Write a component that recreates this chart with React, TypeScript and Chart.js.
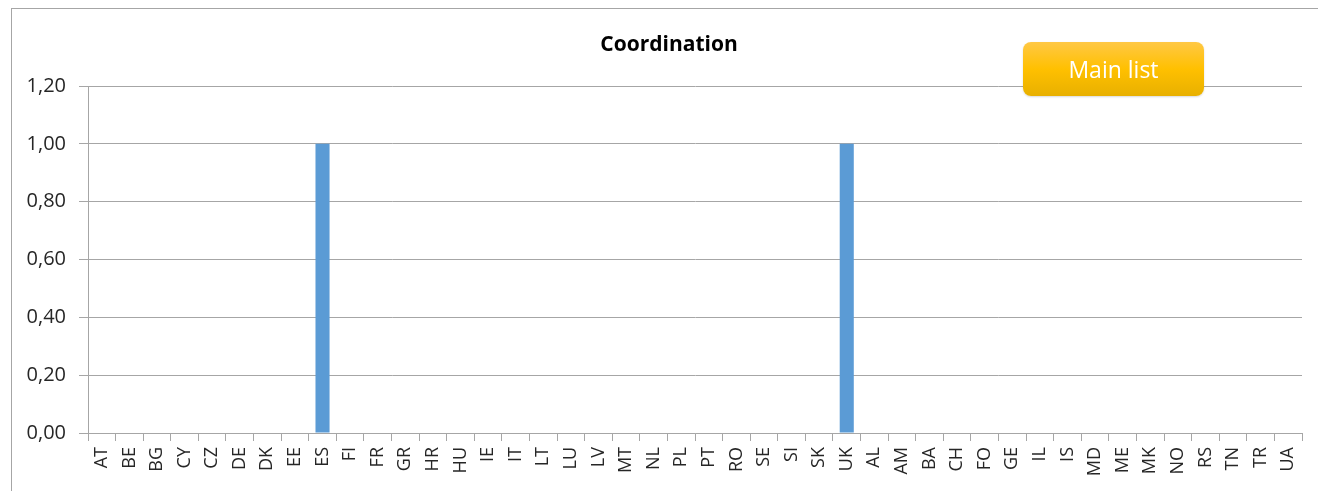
import React, { useEffect, useRef } from "react";
import { Chart, registerables } from "chart.js";

Chart.register(...registerables);

const categories: string[] = [
  "AT", "BE", "BG", "CY", "CZ", "DE", "DK", "EE", "ES", "FI", "FR", "GR", "HR", "HU", "IE",
  "IT", "LT", "LU", "LV", "MT", "NL", "PL", "PT", "RO", "SE", "SI", "SK", "UK", "AL", "AM",
  "BA", "CH", "FO", "GE", "IL", "IS", "MD", "ME", "MK", "NO", "RS", "TN", "TR", "UA",
];

const coordinationValues: number[] = [
  0, 0, 0, 0, 0, 0, 0, 0, 1, 0, 0, 0, 0, 0, 0,
  0, 0, 0, 0, 0, 0, 0, 0, 0, 0, 0, 0, 1, 0, 0,
  0, 0, 0, 0, 0, 0, 0, 0, 0, 0, 0, 0, 0, 0,
];

const chartTitle = "Coordination";
const buttonLabel = "Main list";
const yMin = 0;
const yMax = 1.2;
const yStep = 0.2;

const FONT = "'Open Sans', Lato, sans-serif";

export default function App() {
  const canvasRef = useRef<HTMLCanvasElement | null>(null);

  useEffect(() => {
    const canvas = canvasRef.current;
    if (!canvas) return;
    const chart = new Chart(canvas, {
      type: "bar",
      data: {
        labels: categories,
        datasets: [
          {
            label: chartTitle,
            data: coordinationValues,
            backgroundColor: "#5B9BD5",
            borderWidth: 0,
            barPercentage: 0.51,
            categoryPercentage: 1,
          },
        ],
      },
      options: {
        responsive: false,
        animation: false,
        layout: { padding: { left: 0, top: 86, right: 16, bottom: 0 } },
        plugins: {
          legend: { display: false },
          title: { display: false },
          tooltip: { enabled: false },
        },
        scales: {
          x: {
            grid: {
              offset: true,
              drawOnChartArea: false,
              drawTicks: true,
              tickLength: 8,
              color: "#a6a6a6",
            },
            border: { display: true, color: "#a6a6a6", width: 1 },
            ticks: {
              autoSkip: false,
              minRotation: 90,
              maxRotation: 90,
              padding: 6,
              color: "#262626",
              font: { family: FONT, size: 18 },
            },
            afterFit: (scale: any) => {
              scale.height = 58;
            },
          },
          y: {
            min: yMin,
            max: yMax,
            grid: {
              color: "#a6a6a6",
              drawTicks: true,
              tickLength: 9,
            },
            border: { display: true, color: "#a6a6a6", width: 1 },
            ticks: {
              stepSize: yStep,
              padding: 13,
              color: "#262626",
              font: { family: FONT, size: 20 },
              callback: (v: any) => Number(v).toFixed(2).replace(".", ","),
            },
            afterFit: (scale: any) => {
              scale.width = 88;
            },
          },
        },
      },
    });
    return () => chart.destroy();
  }, []);

  return (
    <div
      style={{
        position: "fixed",
        left: 0,
        top: 0,
        width: 1318,
        height: 491,
        background: "#ffffff",
        overflow: "hidden",
      }}
    >
      <div
        style={{
          position: "absolute",
          left: 11,
          top: 8,
          width: 1400,
          height: 600,
          borderLeft: "1px solid #a6a6a6",
          borderTop: "1px solid #a6a6a6",
          boxSizing: "border-box",
        }}
      />
      <canvas
        ref={canvasRef}
        width={1318}
        height={491}
        style={{ position: "absolute", left: 0, top: 0, width: 1318, height: 491 }}
      />
      <div
        style={{
          position: "absolute",
          left: 469,
          top: 28,
          width: 400,
          textAlign: "center",
          fontFamily: FONT,
          fontWeight: 700,
          fontSize: 21,
          color: "#000000",
          lineHeight: "30px",
        }}
      >
        {chartTitle}
      </div>
      <div
        style={{
          position: "absolute",
          left: 1023,
          top: 42,
          width: 181,
          height: 54,
          borderRadius: 8,
          background: "linear-gradient(to bottom, #FFC845 0%, #FFC000 50%, #E8B000 100%)",
          boxShadow: "0 1px 2px rgba(0,0,0,0.15)",
          color: "#ffffff",
          fontFamily: FONT,
          fontSize: 23,
          display: "flex",
          alignItems: "center",
          justifyContent: "center",
          boxSizing: "border-box",
        }}
      >
        {buttonLabel}
      </div>
    </div>
  );
}
